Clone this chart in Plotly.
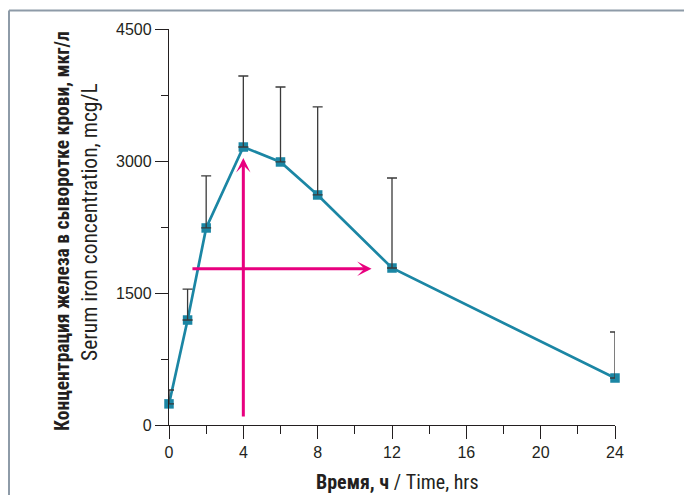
import plotly.graph_objects as go

# Data
time_h = [0, 1, 2, 4, 6, 8, 12, 24]
iron_mean = [240, 1193, 2239, 3159, 2989, 2614, 1784, 534]
iron_sd = [158, 352, 591, 807, 852, 1000, 1023, 523]
x_ticks = [0, 4, 8, 12, 16, 20, 24]
y_ticks = [0, 1500, 3000, 4500]

y_title_ru = "Концентрация железа в сыворотке крови, мкг/л"
y_title_en = "Serum iron concentration, mcg/L"
x_title_ru = "Время, ч"
x_title_en = "Time, hrs"

# arrows (tail -> head) in data units
arrow_v = dict(x0=4, y0=80, x1=4, y1=3034)
arrow_h = dict(x0=1.18, y0=1775, x1=10.9, y1=1775)

NARROW = "Liberation Sans Narrow, Roboto Condensed, Arial Narrow, DejaVu Sans Condensed, sans-serif"
TICKF = "Liberation Sans, Arial, Helvetica, sans-serif"
TEAL = "#1b86a4"
MAGENTA = "#e8007f"
DARK = "#231f20"

OFF = 8  # page body margin
W, H = 692 - OFF, 495 - OFF
L, T = 169 - OFF, 29 - OFF
pw, ph = 446, 396
R = W - L - pw
B = H - T - ph

def px(xp):
    return (xp - OFF - L) / pw

def py(yp):
    return (H - B - (yp - OFF)) / ph

fig = go.Figure()

fig.add_trace(go.Scatter(
    x=time_h, y=iron_mean, mode="lines+markers",
    line=dict(color=TEAL, width=2.7),
    marker=dict(symbol="square", size=9.5, color=TEAL),
    cliponaxis=False, showlegend=False, hoverinfo="skip",
))
fig.add_trace(go.Scatter(
    x=time_h, y=iron_mean, mode="markers",
    marker=dict(size=1, color="rgba(0,0,0,0)"),
    error_y=dict(type="data", symmetric=False, array=iron_sd,
                 arrayminus=[0] * len(iron_sd),
                 color="#3a3a3a", thickness=1.3, width=5),
    cliponaxis=False, showlegend=False, hoverinfo="skip",
))

annotations = []
for a in (arrow_v, arrow_h):
    annotations.append(dict(
        x=a["x1"], y=a["y1"], ax=a["x0"], ay=a["y0"],
        xref="x", yref="y", axref="x", ayref="y",
        text="", showarrow=True, arrowhead=3, arrowsize=0.8,
        arrowwidth=3, arrowcolor=MAGENTA, standoff=0, startstandoff=0,
    ))

annotations.append(dict(
    x=px(62), y=py(231), xref="paper", yref="paper",
    text="<b>" + y_title_ru + "</b>", showarrow=False, textangle=-90,
    xanchor="center", yanchor="middle",
    font=dict(family=NARROW, size=19.5, color=DARK),
))
annotations.append(dict(
    x=px(89), y=py(222), xref="paper", yref="paper",
    text=y_title_en, showarrow=False, textangle=-90,
    xanchor="center", yanchor="middle",
    font=dict(family=NARROW, size=21.5, color=DARK),
))
annotations.append(dict(
    x=px(397), y=py(482), xref="paper", yref="paper",
    text="<b>" + x_title_ru + "</b> / " + x_title_en, showarrow=False,
    xanchor="center", yanchor="middle",
    font=dict(family=NARROW, size=20, color=DARK),
))

FRAME = dict(color="#8e9ba8", width=2)
shapes = [
    dict(type="line", xref="paper", yref="paper",
         x0=px(9), x1=px(760), y0=py(10.5), y1=py(10.5), line=FRAME, layer="below"),
    dict(type="line", xref="paper", yref="paper",
         x0=px(9), x1=px(9), y0=py(10.5), y1=py(560), line=FRAME, layer="below"),
]

axis_common = dict(
    showline=True, linecolor=DARK, linewidth=1.3,
    ticks="outside", ticklen=13, tickwidth=1.3, tickcolor=DARK,
    showgrid=False, zeroline=False,
    tickfont=dict(family=TICKF, size=16, color=DARK),
)

fig.update_layout(
    width=W, height=H,
    margin=dict(l=L, r=R, t=T, b=B),
    paper_bgcolor="white", plot_bgcolor="white",
    xaxis=dict(range=[0, 24], tickvals=x_ticks, **axis_common,
               minor=dict(dtick=2, tick0=0, ticks="outside", ticklen=8,
                          tickwidth=1.3, tickcolor=DARK)),
    yaxis=dict(range=[0, 4500], tickvals=y_ticks, **axis_common,
               minor=dict(dtick=750, tick0=0, ticks="outside", ticklen=7,
                          tickwidth=1.3, tickcolor=DARK)),
    annotations=annotations,
    shapes=shapes,
)

fig.write_html("out.html")
